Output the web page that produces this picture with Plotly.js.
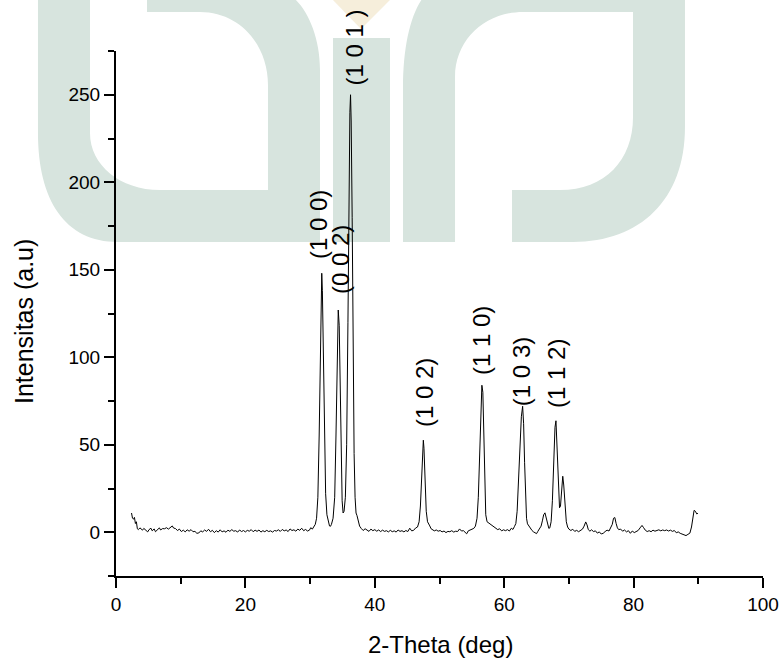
<!DOCTYPE html>
<html>
<head>
<meta charset="utf-8">
<script src="https://cdn.plot.ly/plotly-3.0.1.min.js"></script>
<style>html,body{margin:0;padding:0;background:#fff;}#chart{width:782px;height:658px;}</style>
</head>
<body>
<div id="chart"></div>
<script>
var twoTheta = [
 2.4,2.55,2.7,2.85,3.0,3.15,3.3,3.45,3.7,3.9,4.1,4.3,4.6,4.9,5.1,5.4,5.6,5.9,6.1,6.4,6.7,6.9,7.2,7.5,7.8,8.1,8.4,8.7,8.9,9.2,9.5,9.8,
 10.1,10.4,10.7,11.0,11.3,11.6,11.9,12.2,12.5,12.8,13.1,13.4,13.7,14.0,14.3,14.6,14.9,15.2,15.5,15.8,16.1,16.4,16.7,17.0,17.3,17.6,17.9,
 18.2,18.5,18.8,19.1,19.4,19.7,20.0,20.3,20.6,20.9,21.2,21.5,21.8,22.1,22.4,22.7,23.0,23.3,23.6,23.9,24.2,24.5,24.8,25.1,25.4,25.7,
 26.0,26.3,26.6,26.9,27.2,27.5,27.8,28.1,28.4,28.7,29.0,29.3,29.6,29.9,30.1,30.35,30.6,30.8,31.0,31.2,31.4,31.55,31.7,31.8,31.9,32.05,
 32.2,32.4,32.6,32.8,33.0,33.15,33.3,33.55,33.8,34.0,34.2,34.35,34.5,34.65,34.8,34.95,35.1,35.25,35.45,35.65,35.85,36.0,36.15,36.25,
 36.35,36.5,36.65,36.8,36.95,37.1,37.25,37.45,37.65,37.9,38.2,38.5,38.8,39.1,39.4,39.7,40.0,40.3,40.6,40.9,41.2,41.5,41.8,42.1,42.4,
 42.7,43.0,43.3,43.6,43.9,44.2,44.5,44.8,45.1,45.4,45.7,46.0,46.3,46.6,46.85,47.05,47.25,47.4,47.5,47.6,47.75,47.95,48.15,48.35,48.5,
 48.7,48.95,49.2,49.5,49.8,50.1,50.4,50.7,51.0,51.3,51.6,51.9,52.2,52.5,52.8,53.1,53.4,53.7,54.0,54.2,54.45,54.7,55.0,55.3,55.55,55.8,
 56.0,56.2,56.4,56.55,56.7,56.85,57.0,57.15,57.35,57.55,57.8,58.1,58.4,58.7,59.0,59.3,59.6,59.9,60.2,60.5,60.8,61.1,61.35,61.6,61.8,
 62.0,62.2,62.45,62.65,62.85,63.0,63.15,63.3,63.45,63.6,63.8,64.05,64.3,64.5,64.75,65.0,65.2,65.45,65.7,65.9,66.1,66.3,66.5,66.7,66.9,
 67.05,67.25,67.45,67.65,67.85,68.0,68.15,68.35,68.55,68.7,68.9,69.05,69.2,69.4,69.6,69.8,70.0,70.3,70.6,70.9,71.2,71.5,71.8,72.1,
 72.35,72.6,72.8,73.0,73.25,73.5,73.8,74.1,74.4,74.7,75.0,75.3,75.6,75.9,76.2,76.45,76.7,76.9,77.1,77.3,77.5,77.7,78.0,78.3,78.6,78.9,
 79.2,79.5,79.8,80.1,80.4,80.7,81.0,81.3,81.55,81.8,82.1,82.4,82.7,83.0,83.3,83.6,83.9,84.2,84.5,84.8,85.1,85.4,85.7,86.0,86.3,86.6,
 86.9,87.2,87.5,87.8,88.1,88.4,88.7,88.95,89.15,89.35,89.55,89.75,89.95
];
var intensity = [
 11,8,7.5,8.5,5,6,2,1.5,2.5,1.8,1.2,2.2,1.0,0.2,1.5,2.3,0.8,1.9,0.3,1.6,2.5,1.3,2.1,2.0,2.6,1.8,2.9,3.6,2.4,2.1,1.0,1.8,
 0.4,1.2,0.2,1.4,0.6,1.5,0.3,0.5,-0.6,-0.4,0.8,0.2,1.3,0.5,1.7,0.3,1.1,-0.2,0.9,0.1,1.4,0.2,0.8,0.0,1.2,0.5,1.5,
 0.6,0.9,0.1,1.3,0.4,1.0,0.2,1.1,0.6,1.5,0.3,1.2,0.5,1.3,0.1,0.9,0.3,1.1,0.4,0.8,0.1,1.0,0.7,1.4,0.5,1.6,
 0.8,1.3,0.4,1.9,1.0,1.4,0.6,1.8,1.1,2.3,0.9,1.6,0.7,1.2,2.6,1.8,3.0,4.5,8,20,55,100,140,148,138,95,
 50,22,10,5.5,3.6,3.4,4.5,8,20,55,100,127,118,80,40,18,11,12,20,50,120,190,240,250,
 235,180,100,45,20,11,9.5,6,3.5,2.2,1.0,2.0,1.1,0.5,1.8,0.9,1.5,0.6,1.3,0.4,1.2,0.5,0.9,0.2,1.1,
 0.3,0.8,0.1,1.3,0.5,0.9,0.2,1.0,0.4,2.3,0.8,1.1,2.4,3.0,6,15,35,50,52.6,48,30,12,6,4,3.6,
 2.0,1.6,0.8,1.3,0.6,1.0,0.2,0.7,-0.2,0.5,0.3,0.9,0.1,0.6,0.4,1.9,0.7,0.9,-0.5,-0.9,0.8,1.3,1.8,2.2,3.5,8,
 20,45,72,84,80,55,25,10,6,5.5,4.5,3.8,3.0,2.2,1.5,2.0,0.8,1.4,0.9,1.5,0.7,2.3,1.6,3.4,5,
 12,28,50,66,72,62,40,18,8,4.8,3.5,2.0,1.0,0.3,-0.3,-0.8,0.5,2.0,3.5,6.5,10,11.1,8,4,2.2,
 2.5,6,18,40,60,63.7,52,28,14,15,26,32,27,14,6,3,1.8,1.0,1.7,0.5,1.1,0.3,1.0,1.8,
 3.5,5.9,4.2,1.5,0.6,1.4,0.4,0.8,-0.5,0.2,-1.0,-0.6,0.4,1.2,0.7,2.6,4.5,8.0,8.4,5,2.5,1.5,1.8,0.6,1.3,0.2,
 0.9,-0.6,0.7,-0.2,0.5,1.0,2.5,3.9,2.6,1.2,0.4,0.9,0.3,1.2,0.6,0.9,1.4,0.8,1.3,0.9,1.3,0.7,1.2,0.5,1.0,-0.3,
 0.2,-0.6,-0.9,-1.6,-1.9,-1.2,-0.5,3,8,12.5,12,10.5,10.8
];
// Peak labels (Miller indices) and where their centres sit, in data units
var peakLabels = ["(1 0 0)", "(0 0 2)", "(1 0 1 )", "(1 0 2)", "(1 1 0)", "(1 0 3)", "(1 1 2)"];
var labelX = [31.4, 34.8, 36.9, 47.6, 56.4, 62.6, 68.0];
var labelY = [175.6, 155.6, 276.9, 80.1, 109.8, 91.5, 91.0];

var xRange = [0, 100];
var yRange = [-25, 275];
var xTicks = [0, 20, 40, 60, 80, 100];
var yTicks = [0, 50, 100, 150, 200, 250];
var xTitle = '2-Theta (deg)';
var yTitle = 'Intensitas (a.u)';

// ---- Layout geometry ----
var W = 782, H = 658;
var M = {l: 116, r: 19, t: 51, b: 82};
var pw = W - M.l - M.r, ph = H - M.t - M.b;
function PX(px) { return ((px - M.l) / pw).toFixed(4); }
function PY(py) { return ((H - M.b - py) / ph).toFixed(4); }
function pathStr(cmds) {
  return cmds.map(function (c) {
    var parts = [];
    for (var i = 1; i < c.length; i += 2) parts.push(PX(c[i]) + ',' + PY(c[i + 1]));
    return c[0] + parts.join(' ');
  }).join(' ') + ' Z';
}
var green = '#d7e4de';
var leftShape = pathStr([
  ['M', 38, -5], ['L', 38, 133], ['C', 38, 200, 65, 242, 118, 242], ['L', 320, 242], ['L', 320, 70],
  ['C', 320, 35, 306, 6, 290, -5], ['L', 147, -5], ['L', 147, 12], ['L', 200, 12],
  ['C', 240, 12, 268, 45, 268, 85], ['L', 268, 190], ['L', 160, 190], ['C', 120, 190, 90, 165, 90, 133],
  ['L', 90, -5]
]);
var rightShape = pathStr([
  ['M', 403, 242], ['L', 403, 88], ['C', 403, 45, 411, 12, 425, -5], ['L', 685, -5], ['L', 685, 127],
  ['C', 685, 200, 640, 242, 573, 242], ['L', 512, 242], ['L', 512, 190], ['L', 560, 190],
  ['C', 605, 190, 633, 160, 633, 117], ['L', 633, 12], ['L', 523, 12], ['C', 485, 12, 455, 40, 455, 77],
  ['L', 455, 242]
]);
var midBar = pathStr([['M', 333, 38], ['L', 390, 38], ['L', 390, 242], ['L', 333, 242]]);
var tri = pathStr([['M', 330, -3], ['L', 393, -3], ['L', 361, 29]]);

var shapes = [
  {type: 'path', xref: 'paper', yref: 'paper', path: leftShape, fillcolor: green, line: {width: 0}, layer: 'below'},
  {type: 'path', xref: 'paper', yref: 'paper', path: rightShape, fillcolor: green, line: {width: 0}, layer: 'below'},
  {type: 'path', xref: 'paper', yref: 'paper', path: midBar, fillcolor: green, line: {width: 0}, layer: 'below'},
  {type: 'path', xref: 'paper', yref: 'paper', path: tri, fillcolor: '#f6eedb', line: {width: 0}, layer: 'below'}
];

var font = 'Arial, "Liberation Sans", sans-serif';
var annotations = peakLabels.map(function (t, i) {
  return {
    text: t, x: labelX[i], xref: 'x',
    y: (labelY[i] - yRange[0]) / (yRange[1] - yRange[0]), yref: 'paper',
    textangle: -90, showarrow: false, xanchor: 'center', yanchor: 'middle',
    font: {family: font, size: 24, color: '#000'}
  };
});
// axis titles placed as annotations for exact positioning
annotations.push({text: xTitle, xref: 'paper', yref: 'paper', x: +PX(440), y: +PY(645),
  xanchor: 'center', yanchor: 'middle', showarrow: false, font: {family: font, size: 24, color: '#000'}});
annotations.push({text: yTitle, xref: 'paper', yref: 'paper', x: +PX(24), y: +PY(321), textangle: -90,
  xanchor: 'center', yanchor: 'middle', showarrow: false, font: {family: font, size: 25, color: '#000'}});

var trace = {
  x: twoTheta, y: intensity, type: 'scatter', mode: 'lines',
  line: {color: '#000', width: 1}, hoverinfo: 'skip', cliponaxis: false
};

var axisCommon = {
  showgrid: false, zeroline: false, showline: true, linecolor: '#000', linewidth: 2,
  ticks: 'outside', ticklen: 10, tickwidth: 2, tickcolor: '#000',
  tickfont: {family: font, size: 19, color: '#000'}, mirror: false
};

var layout = {
  width: W, height: H, margin: M,
  paper_bgcolor: '#fff', plot_bgcolor: 'rgba(0,0,0,0)',
  showlegend: false,
  xaxis: Object.assign({}, axisCommon, {
    range: xRange, tickvals: xTicks, ticktext: xTicks.map(String),
    minor: {ticks: 'outside', ticklen: 6, tickwidth: 2, tickcolor: '#000', dtick: 10, tick0: 0}
  }),
  yaxis: Object.assign({}, axisCommon, {
    range: yRange, tickvals: yTicks, ticktext: yTicks.map(String),
    minor: {ticks: 'outside', ticklen: 6, tickwidth: 2, tickcolor: '#000', dtick: 25, tick0: 25}
  }),
  shapes: shapes,
  annotations: annotations
};

Plotly.newPlot('chart', [trace], layout, {staticPlot: true, displayModeBar: false});
</script>
</body>
</html>
